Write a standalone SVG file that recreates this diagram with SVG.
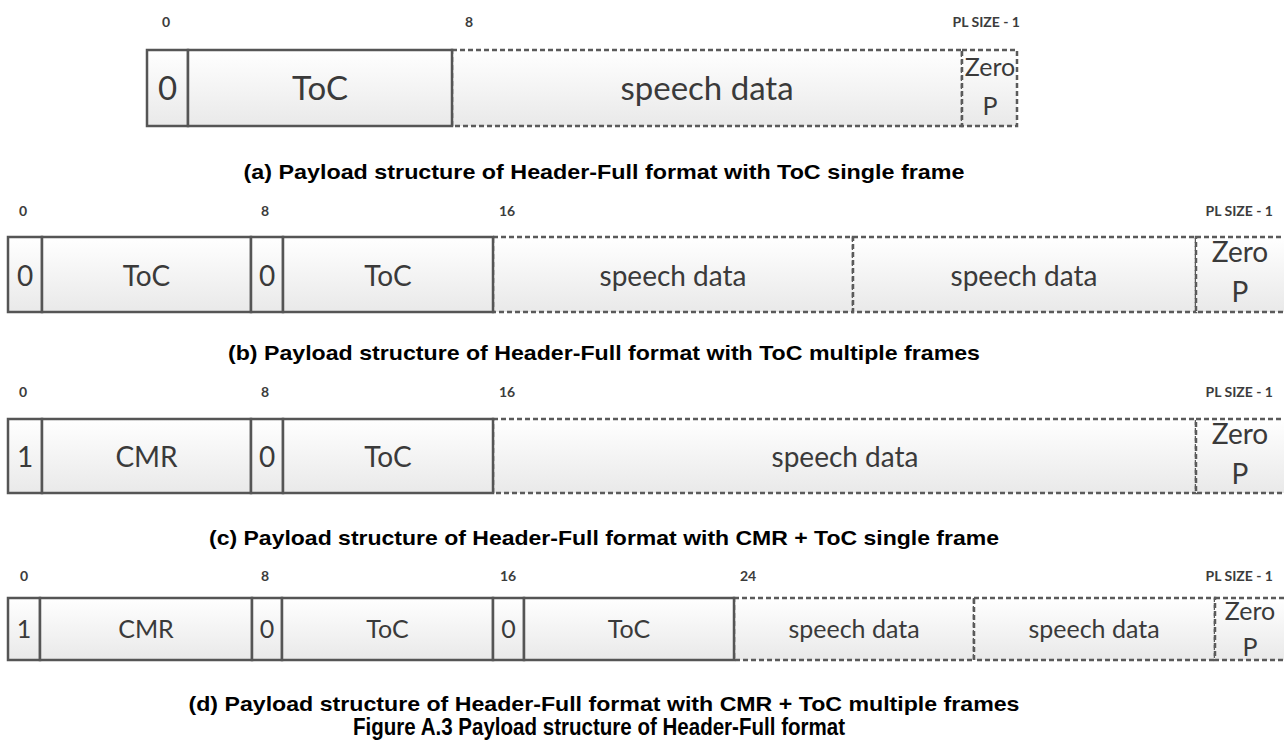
<svg xmlns="http://www.w3.org/2000/svg" width="1284" height="744" viewBox="0 0 1284 744">
<defs>
<linearGradient id="cellfill" x1="0" y1="0" x2="0" y2="1">
<stop offset="0" stop-color="#ffffff"/>
<stop offset="1" stop-color="#e9e9e9"/>
</linearGradient>
<style>
.s{fill:url(#cellfill);stroke:#555555;stroke-width:2.5}
.d{fill:url(#cellfill);stroke:#5a5a5a;stroke-width:2.5;stroke-dasharray:5 3}
.t{font-family:Lato,"Open Sans",sans-serif;fill:#3a3a3a;text-anchor:middle}
.ta{font-size:33px}
.tz{font-size:25px}
.tb{font-size:28px}
.td{font-size:25px}
.lbl{font-family:Lato,"Open Sans",sans-serif;font-weight:bold;font-size:14px;fill:#3c3c3c}
.m{text-anchor:middle}
.e{text-anchor:end}
.cap{font-family:"Liberation Sans",Arial,sans-serif;font-weight:bold;font-size:21px;fill:#000;text-anchor:middle}
.fig{font-family:"Liberation Sans",Arial,sans-serif;font-weight:bold;font-size:23px;fill:#000;text-anchor:middle}
</style>
</defs>
<rect width="1284" height="744" fill="#ffffff"/>
<g id="connectors"/>

<!-- Row a -->
<g id="row-a">
<g id="a-labels">
<text class="lbl m" x="166" y="27">0</text>
<text class="lbl m" x="469" y="27">8</text>
<text class="lbl e" x="1020" y="27">PL SIZE - 1</text>
</g>
<g id="a-speech"><rect class="d" x="452" y="50" width="510" height="76"/><text class="t ta" x="707" y="100">speech data</text></g>
<g id="a-zero"><rect class="d" x="962" y="50" width="55" height="76"/><text class="t tz" x="990" y="76">Zero</text><text class="t tz" x="990" y="115">P</text></g>
<g id="a-bit0"><rect class="s" x="147" y="50" width="41" height="76"/><text class="t ta" x="167.5" y="100">0</text></g>
<g id="a-toc"><rect class="s" x="188" y="50" width="264" height="76"/><text class="t ta" x="320" y="100">ToC</text></g>
</g>
<text class="cap" x="604" y="179" textLength="721" lengthAdjust="spacingAndGlyphs">(a) Payload structure of Header-Full format with ToC single frame</text>

<!-- Row b -->
<g id="row-b">
<g id="b-labels">
<text class="lbl m" x="23" y="216">0</text>
<text class="lbl m" x="265" y="216">8</text>
<text class="lbl m" x="507" y="216">16</text>
<text class="lbl e" x="1273" y="216">PL SIZE - 1</text>
</g>
<g id="b-speech1"><rect class="d" x="493" y="237" width="360" height="75"/><text class="t tb" x="673" y="286">speech data</text></g>
<g id="b-speech2"><rect class="d" x="853" y="237" width="343" height="75"/><text class="t tb" x="1024" y="286">speech data</text></g>
<g id="b-zero"><rect class="d" x="1196" y="237" width="94" height="75"/><text class="t tb" x="1240" y="262">Zero</text><text class="t tb" x="1240" y="302">P</text></g>
<g id="b-bit0a"><rect class="s" x="8" y="237" width="34" height="75"/><text class="t tb" x="25" y="286">0</text></g>
<g id="b-toc1"><rect class="s" x="42" y="237" width="209" height="75"/><text class="t tb" x="146.5" y="286">ToC</text></g>
<g id="b-bit0b"><rect class="s" x="251" y="237" width="32" height="75"/><text class="t tb" x="267" y="286">0</text></g>
<g id="b-toc2"><rect class="s" x="283" y="237" width="210" height="75"/><text class="t tb" x="388" y="286">ToC</text></g>
</g>
<text class="cap" x="604" y="360" textLength="752" lengthAdjust="spacingAndGlyphs">(b) Payload structure of Header-Full format with ToC multiple frames</text>

<!-- Row c -->
<g id="row-c">
<g id="c-labels">
<text class="lbl m" x="23" y="397">0</text>
<text class="lbl m" x="265" y="397">8</text>
<text class="lbl m" x="507" y="397">16</text>
<text class="lbl e" x="1273" y="397">PL SIZE - 1</text>
</g>
<g id="c-speech"><rect class="d" x="493" y="419" width="703" height="74"/><text class="t tb" x="845" y="467">speech data</text></g>
<g id="c-zero"><rect class="d" x="1196" y="419" width="94" height="74"/><text class="t tb" x="1240" y="444">Zero</text><text class="t tb" x="1240" y="484">P</text></g>
<g id="c-bit1"><rect class="s" x="8" y="419" width="34" height="74"/><text class="t tb" x="25" y="467">1</text></g>
<g id="c-cmr"><rect class="s" x="42" y="419" width="209" height="74"/><text class="t tb" x="146.5" y="467">CMR</text></g>
<g id="c-bit0"><rect class="s" x="251" y="419" width="32" height="74"/><text class="t tb" x="267" y="467">0</text></g>
<g id="c-toc"><rect class="s" x="283" y="419" width="210" height="74"/><text class="t tb" x="388" y="467">ToC</text></g>
</g>
<text class="cap" x="604" y="545" textLength="790" lengthAdjust="spacingAndGlyphs">(c) Payload structure of Header-Full format with CMR + ToC single frame</text>

<!-- Row d -->
<g id="row-d">
<g id="d-labels">
<text class="lbl m" x="24" y="581">0</text>
<text class="lbl m" x="265" y="581">8</text>
<text class="lbl m" x="508" y="581">16</text>
<text class="lbl m" x="748" y="581">24</text>
<text class="lbl e" x="1273" y="581">PL SIZE - 1</text>
</g>
<g id="d-speech1"><rect class="d" x="734" y="598" width="240" height="62"/><text class="t td" x="854" y="638">speech data</text></g>
<g id="d-speech2"><rect class="d" x="974" y="598" width="241" height="62"/><text class="t td" x="1094" y="638">speech data</text></g>
<g id="d-zero"><rect class="d" x="1215" y="598" width="75" height="62"/><text class="t td" x="1250" y="620">Zero</text><text class="t td" x="1250" y="656">P</text></g>
<g id="d-bit1"><rect class="s" x="8" y="598" width="32" height="62"/><text class="t td" x="24" y="638">1</text></g>
<g id="d-cmr"><rect class="s" x="40" y="598" width="212" height="62"/><text class="t td" x="146" y="638">CMR</text></g>
<g id="d-bit0a"><rect class="s" x="252" y="598" width="30" height="62"/><text class="t td" x="267" y="638">0</text></g>
<g id="d-toc1"><rect class="s" x="282" y="598" width="211" height="62"/><text class="t td" x="387.5" y="638">ToC</text></g>
<g id="d-bit0b"><rect class="s" x="493" y="598" width="31" height="62"/><text class="t td" x="508.5" y="638">0</text></g>
<g id="d-toc2"><rect class="s" x="524" y="598" width="210" height="62"/><text class="t td" x="629" y="638">ToC</text></g>
</g>
<text class="cap" x="604" y="711" textLength="831" lengthAdjust="spacingAndGlyphs">(d) Payload structure of Header-Full format with CMR + ToC multiple frames</text>
<text class="fig" x="599" y="735" textLength="492" lengthAdjust="spacingAndGlyphs">Figure A.3 Payload structure of Header-Full format</text>
</svg>
